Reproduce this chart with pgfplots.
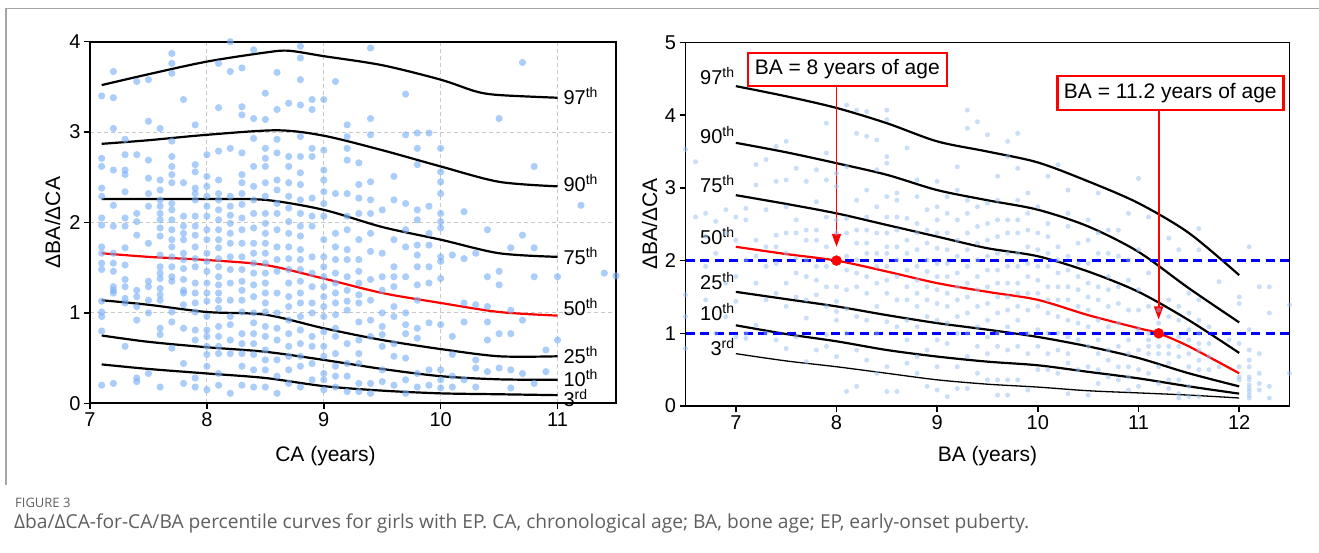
\documentclass[border=0pt]{standalone}
\usepackage{fontspec}
\setmainfont{Liberation Sans}
\newfontfamily\capfont{Open Sans}
\usepackage{pgfplots}
\pgfplotsset{compat=1.18}
\usetikzlibrary{arrows.meta}
\definecolor{ptL}{RGB}{120,175,245}
\definecolor{ptR}{RGB}{150,190,240}
\definecolor{gridc}{RGB}{200,200,200}
\definecolor{framec}{RGB}{165,165,165}
\definecolor{capc}{RGB}{95,95,95}
\newcommand{\pct}[2]{#1\raisebox{7pt}{\fontsize{14}{14}\selectfont #2}}
\pgfplotsset{mystyle/.style={scale only axis, clip=false, anchor=south west,
  axis line style={line width=1.8pt}, tick style={line width=1.5pt, black},
  major tick length=6pt, tick align=outside, xtick pos=bottom, ytick pos=left,
  tick label style={font=\fontsize{20}{24}\selectfont},
  /pgf/number format/assume math mode=true,
  label style={font=\fontsize{21}{25}\selectfont}},
  pl/.style={black, line width=2.2pt, smooth}}
\tikzset{lab/.style={font=\fontsize{20}{24}\selectfont, inner sep=0pt}}
\begin{document}
\begin{tikzpicture}[x=1pt,y=1pt]
\path[use as bounding box] (0,0) rectangle (1319,552);
\draw[framec, line width=1.2pt] (6,67) -- (6,543.5) -- (1319,543.5);
\node[anchor=west, font=\capfont\fontsize{13}{15}\selectfont, text=capc, inner sep=0pt] at (15,49) {FIGURE 3};
\node[anchor=west, font=\capfont\fontsize{19.2}{22}\selectfont, text=capc, inner sep=0pt] at (14,29) {Δba/ΔCA-for-CA/BA percentile curves for girls with EP. CA, chronological age; BA, bone age; EP, early-onset puberty.};

% ---------------- left panel ----------------
\begin{axis}[mystyle, at={(90pt,148.7pt)}, width=526pt, height=361.6pt,
  xmin=7, xmax=11.5, ymin=0, ymax=4, xtick={7,8,9,10,11}, ytick={0,1,2,3,4},
  grid=major, grid style={gridc, dash pattern=on 4pt off 3pt, line width=0.9pt},
  xlabel={CA (years)}, ylabel={ΔBA/ΔCA},
  xlabel style={at={(axis description cs:0.4477,-0.1457)}, anchor=center},
  ylabel style={at={(axis description cs:-0.0711,0.5)}, anchor=center}]
\addplot[only marks, mark=*, mark size=3.6pt, mark options={fill=ptL, fill opacity=0.62, draw opacity=0, line width=0pt}] coordinates {
(7.1,3.40)(7.1,2.71)(7.1,2.62)(7.1,2.38)(7.1,2.29)(7.1,2.05)(7.1,1.97)(7.1,1.73)(7.1,1.66)(7.1,1.55)(7.1,1.48)(7.1,1.13)(7.1,1.01)(7.1,0.96)(7.1,0.80)(7.1,0.20)
(7.2,3.67)(7.2,3.38)(7.2,3.04)(7.2,2.58)(7.2,2.19)(7.2,1.96)(7.2,1.66)(7.2,1.55)(7.2,1.46)(7.2,1.29)(7.2,1.25)(7.2,1.22)(7.2,0.22)
(7.3,2.92)(7.3,2.75)(7.3,2.58)(7.3,2.53)(7.3,2.34)(7.3,2.05)(7.3,1.96)(7.3,1.72)(7.3,1.53)(7.3,1.37)(7.3,1.29)(7.3,1.16)(7.3,1.11)(7.3,0.63)
(7.4,3.56)(7.4,2.75)(7.4,2.10)(7.4,2.01)(7.4,1.86)(7.4,1.25)(7.4,1.18)(7.4,1.07)(7.4,0.92)(7.4,0.28)(7.4,0.24)
(7.5,3.58)(7.5,3.12)(7.5,2.69)(7.5,2.49)(7.5,2.32)(7.5,2.18)(7.5,1.77)(7.5,1.35)(7.5,1.29)(7.5,1.14)(7.5,1.00)(7.5,0.33)
(7.6,3.04)(7.6,2.47)(7.6,2.36)(7.6,2.25)(7.6,2.18)(7.6,2.10)(7.6,2.03)(7.6,1.94)(7.6,1.85)(7.6,1.64)(7.6,1.51)(7.6,1.44)(7.6,1.38)(7.6,1.27)(7.6,1.20)(7.6,1.14)(7.6,0.83)(7.6,0.76)(7.6,0.18)
(7.7,3.87)(7.7,3.76)(7.7,3.65)(7.7,2.90)(7.7,2.73)(7.7,2.62)(7.7,2.53)(7.7,2.44)(7.7,2.21)(7.7,2.14)(7.7,2.03)(7.7,1.92)(7.7,1.81)(7.7,1.73)(7.7,1.62)(7.7,1.51)(7.7,1.40)(7.7,1.35)(7.7,1.01)(7.7,0.90)(7.7,0.61)
(7.8,3.36)(7.8,2.44)(7.8,2.07)(7.8,1.96)(7.8,1.88)(7.8,1.81)(7.8,1.66)(7.8,1.59)(7.8,1.49)(7.8,1.37)(7.8,1.25)(7.8,1.22)(7.8,1.09)(7.8,0.83)(7.8,0.44)(7.8,0.22)
(7.9,3.08)(7.9,2.64)(7.9,2.56)(7.9,2.38)(7.9,2.32)(7.9,2.25)(7.9,2.07)(7.9,1.96)(7.9,1.86)(7.9,1.73)(7.9,1.60)(7.9,1.51)(7.9,1.33)(7.9,1.22)(7.9,1.11)(7.9,1.01)(7.9,0.81)(7.9,0.70)(7.9,0.28)(7.9,0.18)
(8.0,2.75)(8.0,2.51)(8.0,2.40)(8.0,2.29)(8.0,2.18)(8.0,2.07)(8.0,1.92)(8.0,1.81)(8.0,1.66)(8.0,1.57)(8.0,1.46)(8.0,1.33)(8.0,1.22)(8.0,1.13)(8.0,0.96)(8.0,0.81)(8.0,0.74)(8.0,0.63)(8.0,0.54)(8.0,0.41)(8.0,0.15)
(8.1,3.76)(8.1,3.27)(8.1,2.79)(8.1,2.47)(8.1,2.32)(8.1,2.25)(8.1,2.14)(8.1,2.03)(8.1,1.92)(8.1,1.81)(8.1,1.72)(8.1,1.60)(8.1,1.51)(8.1,1.40)(8.1,1.31)(8.1,1.22)(8.1,1.14)(8.1,1.05)(8.1,0.85)(8.1,0.74)(8.1,0.63)(8.1,0.55)(8.1,0.33)(8.1,0.20)
(8.2,4.00)(8.2,3.67)(8.2,2.82)(8.2,2.29)(8.2,2.18)(8.2,2.08)(8.2,1.99)(8.2,1.88)(8.2,1.77)(8.2,1.62)(8.2,1.48)(8.2,1.33)(8.2,1.14)(8.2,0.96)(8.2,0.87)(8.2,0.70)(8.2,0.55)(8.2,0.11)
(8.3,3.71)(8.3,3.28)(8.3,3.19)(8.3,2.77)(8.3,2.53)(8.3,2.44)(8.3,2.32)(8.3,2.20)(8.3,2.05)(8.3,1.92)(8.3,1.77)(8.3,1.62)(8.3,1.48)(8.3,1.35)(8.3,1.25)(8.3,1.14)(8.3,1.01)(8.3,0.77)(8.3,0.66)(8.3,0.55)(8.3,0.41)(8.3,0.20)
(8.4,3.91)(8.4,3.15)(8.4,2.93)(8.4,2.62)(8.4,2.40)(8.4,2.25)(8.4,2.10)(8.4,1.94)(8.4,1.77)(8.4,1.66)(8.4,1.55)(8.4,1.44)(8.4,1.31)(8.4,1.18)(8.4,1.00)(8.4,0.89)(8.4,0.77)(8.4,0.66)(8.4,0.54)(8.4,0.37)(8.4,0.18)
(8.5,3.43)(8.5,3.14)(8.5,2.82)(8.5,2.71)(8.5,2.62)(8.5,2.44)(8.5,2.29)(8.5,2.10)(8.5,1.99)(8.5,1.88)(8.5,1.77)(8.5,1.66)(8.5,1.55)(8.5,1.44)(8.5,1.33)(8.5,1.22)(8.5,1.11)(8.5,1.01)(8.5,0.85)(8.5,0.74)(8.5,0.59)(8.5,0.48)(8.5,0.37)(8.5,0.18)
(8.6,3.66)(8.6,3.25)(8.6,2.92)(8.6,2.77)(8.6,2.47)(8.6,2.36)(8.6,2.21)(8.6,2.10)(8.6,1.92)(8.6,1.73)(8.6,1.59)(8.6,1.46)(8.6,1.22)(8.6,1.00)(8.6,0.83)(8.6,0.70)(8.6,0.48)(8.6,0.30)(8.6,0.11)
(8.7,3.32)(8.7,2.73)(8.7,2.62)(8.7,2.44)(8.7,2.29)(8.7,2.16)(8.7,2.01)(8.7,1.88)(8.7,1.73)(8.7,1.60)(8.7,1.48)(8.7,1.33)(8.7,1.18)(8.7,1.07)(8.7,0.92)(8.7,0.77)(8.7,0.63)(8.7,0.52)(8.7,0.37)(8.7,0.22)
(8.8,3.95)(8.8,3.82)(8.8,3.58)(8.8,3.30)(8.8,2.95)(8.8,2.73)(8.8,2.55)(8.8,2.42)(8.8,2.25)(8.8,2.10)(8.8,1.96)(8.8,1.85)(8.8,1.70)(8.8,1.59)(8.8,1.48)(8.8,1.35)(8.8,1.22)(8.8,1.11)(8.8,0.96)(8.8,0.81)(8.8,0.66)(8.8,0.52)(8.8,0.41)(8.8,0.18)
(8.9,3.36)(8.9,3.25)(8.9,2.82)(8.9,2.73)(8.9,2.27)(8.9,2.07)(8.9,1.96)(8.9,1.62)(8.9,1.44)(8.9,1.29)(8.9,1.11)(8.9,1.00)(8.9,0.74)(8.9,0.63)(8.9,0.44)(8.9,0.26)
(9.0,3.36)(9.0,2.80)(9.0,2.58)(9.0,2.47)(9.0,2.34)(9.0,2.21)(9.0,2.07)(9.0,1.81)(9.0,1.62)(9.0,1.51)(9.0,1.40)(9.0,1.29)(9.0,1.18)(9.0,1.07)(9.0,0.96)(9.0,0.79)(9.0,0.63)(9.0,0.52)(9.0,0.33)(9.0,0.26)(9.0,0.15)
(9.1,3.56)(9.1,2.32)(9.1,1.88)(9.1,1.73)(9.1,1.59)(9.1,1.44)(9.1,1.33)(9.1,1.22)(9.1,1.11)(9.1,0.98)(9.1,0.83)(9.1,0.74)(9.1,0.55)(9.1,0.41)(9.1,0.30)(9.1,0.18)
(9.2,3.08)(9.2,2.95)(9.2,2.82)(9.2,2.69)(9.2,2.32)(9.2,2.07)(9.2,1.92)(9.2,1.70)(9.2,1.59)(9.2,1.40)(9.2,1.25)(9.2,1.13)(9.2,1.03)(9.2,0.66)(9.2,0.44)(9.2,0.30)(9.2,0.13)
(9.3,2.66)(9.3,2.42)(9.3,2.27)(9.3,2.10)(9.3,1.81)(9.3,1.59)(9.3,1.46)(9.3,1.33)(9.3,1.20)(9.3,1.11)(9.3,0.90)(9.3,0.70)(9.3,0.55)(9.3,0.44)(9.3,0.22)(9.3,0.13)
(9.4,3.93)(9.4,3.15)(9.4,2.97)(9.4,2.45)(9.4,2.25)(9.4,2.10)(9.4,1.88)(9.4,1.68)(9.4,1.37)(9.4,1.14)(9.4,0.92)(9.4,0.74)(9.4,0.22)(9.4,0.11)
(9.5,2.14)(9.5,1.66)(9.5,1.40)(9.5,1.25)(9.5,1.00)(9.5,0.85)(9.5,0.76)(9.5,0.63)(9.5,0.37)(9.5,0.24)
(9.6,2.51)(9.6,2.25)(9.6,1.81)(9.6,1.51)(9.6,1.40)(9.6,1.29)(9.6,1.07)(9.6,0.96)(9.6,0.66)(9.6,0.52)(9.6,0.20)
(9.7,3.42)(9.7,2.97)(9.7,2.21)(9.7,1.92)(9.7,1.73)(9.7,1.40)(9.7,1.00)(9.7,0.87)(9.7,0.77)(9.7,0.50)(9.7,0.26)(9.7,0.11)
(9.8,2.99)(9.8,2.82)(9.8,2.64)(9.8,2.14)(9.8,2.03)(9.8,1.75)(9.8,1.64)(9.8,1.51)(9.8,1.31)(9.8,1.14)(9.8,0.83)(9.8,0.72)(9.8,0.33)(9.8,0.18)
(9.9,2.99)(9.9,2.18)(9.9,1.88)(9.9,1.75)(9.9,1.51)(9.9,1.33)(9.9,0.89)(9.9,0.37)(9.9,0.20)
(10.0,2.82)(10.0,2.56)(10.0,2.45)(10.0,2.32)(10.0,2.10)(10.0,2.01)(10.0,1.94)(10.0,1.62)(10.0,1.57)(10.0,1.38)(10.0,0.87)(10.0,0.37)(10.0,0.26)(10.0,0.17)
(10.1,1.64)(10.1,0.74)(10.1,0.54)(10.1,0.30)(10.1,0.18)
(10.2,2.12)(10.2,1.60)(10.2,1.11)(10.2,0.90)(10.2,0.26)
(10.3,1.66)(10.3,1.09)(10.3,0.48)(10.3,0.39)(10.3,0.18)
(10.4,1.92)(10.4,1.40)(10.4,1.07)(10.4,0.90)(10.4,0.70)(10.4,0.35)
(10.5,3.15)(10.5,1.46)(10.5,1.31)(10.5,0.77)(10.5,0.39)
(10.6,1.72)(10.6,1.03)(10.6,0.77)(10.6,0.37)(10.6,0.17)
(10.7,3.77)(10.7,1.86)(10.7,0.92)(10.7,0.33)
(10.8,2.62)(10.8,1.72)(10.8,1.40)(10.8,0.22)
(10.9,0.59)(10.9,0.35)
(11.0,1.40)(11.0,0.70)
(11.2,2.19)(11.4,1.44)(11.5,1.41)
};
\addplot[pl] coordinates {(7.1,3.52)(7.5,3.64)(8,3.78)(8.5,3.88)(8.7,3.90)(9,3.84)(9.5,3.74)(10,3.58)(10.3,3.45)(10.5,3.41)(11,3.38)};
\addplot[pl] coordinates {(7.1,2.87)(7.5,2.91)(8,2.97)(8.6,3.02)(9,2.96)(9.5,2.80)(10,2.62)(10.5,2.45)(11,2.40)};
\addplot[pl] coordinates {(7.1,2.26)(7.5,2.26)(8,2.26)(8.5,2.25)(9,2.14)(9.5,1.95)(10,1.81)(10.5,1.66)(11,1.62)};
\addplot[pl] coordinates {(7.1,1.14)(7.5,1.09)(8,1.01)(8.5,0.98)(9,0.83)(9.5,0.70)(10,0.60)(10.5,0.52)(11,0.52)};
\addplot[pl] coordinates {(7.1,0.75)(7.5,0.68)(8,0.62)(8.5,0.57)(9,0.48)(9.5,0.38)(10,0.30)(10.5,0.265)(11,0.26)};
\addplot[pl] coordinates {(7.1,0.43)(7.5,0.38)(8,0.33)(8.5,0.28)(9,0.19)(9.5,0.14)(10,0.11)(10.5,0.10)(11,0.09)};
\addplot[red, line width=2.2pt, smooth] coordinates {(7.1,1.66)(7.5,1.62)(8,1.585)(8.5,1.53)(9,1.38)(9.5,1.22)(10,1.11)(10.5,1.01)(11,0.97)};
\node[lab, anchor=base west] at (axis cs:11.05,3.31) {\pct{97}{th}};
\node[lab, anchor=base west] at (axis cs:11.05,2.34) {\pct{90}{th}};
\node[lab, anchor=base west] at (axis cs:11.05,1.54) {\pct{75}{th}};
\node[lab, anchor=base west] at (axis cs:11.05,0.97) {\pct{50}{th}};
\node[lab, anchor=base west] at (axis cs:11.05,0.44) {\pct{25}{th}};
\node[lab, anchor=base west] at (axis cs:11.05,0.19) {\pct{10}{th}};
\node[lab, anchor=base west] at (axis cs:11.05,-0.03) {\pct{3}{rd}};
\end{axis}

% ---------------- right panel ----------------
\begin{axis}[mystyle, at={(685.5pt,146pt)}, width=604pt, height=363.5pt,
  xmin=6.5, xmax=12.5, ymin=0, ymax=5, xtick={7,8,9,10,11,12}, ytick={0,1,2,3,4,5},
  xlabel={BA (years)}, ylabel={ΔBA/ΔCA},
  xlabel style={at={(axis description cs:0.5,-0.1376)}, anchor=center},
  ylabel style={at={(axis description cs:-0.0593,0.5)}, anchor=center}]
\addplot[only marks, mark=*, mark size=2.5pt, mark options={fill=ptR, fill opacity=0.5, draw opacity=0, line width=0pt}] coordinates {
(6.5,3.53)(6.5,1.53)(6.5,1.23)(6.5,0.79)(6.6,3.36)(6.6,2.60)
(6.7,2.65)(6.7,2.33)(6.7,1.92)(6.7,1.46)(6.8,2.54)(6.8,2.10)(6.8,1.00)
(6.9,2.70)(6.9,2.38)(6.9,1.69)(6.9,1.23)
(7.0,2.60)(7.0,2.28)(7.0,1.78)(7.0,1.44)(7.0,0.95)
(7.1,2.72)(7.1,2.56)(7.1,2.01)(7.1,1.00)(7.1,0.93)
(7.2,3.32)(7.2,3.04)(7.2,2.28)(7.2,2.06)(7.2,1.69)(7.2,1.11)
(7.3,3.39)(7.3,2.70)(7.3,2.19)(7.3,1.92)(7.3,1.46)(7.3,1.00)
(7.4,3.57)(7.4,3.09)(7.4,2.35)(7.4,2.19)(7.4,1.96)(7.4,1.55)(7.4,0.91)
(7.5,3.64)(7.5,3.11)(7.5,2.74)(7.5,2.38)(7.5,2.10)(7.5,1.69)(7.5,1.37)(7.5,0.79)
(7.6,3.27)(7.6,2.56)(7.6,2.38)(7.6,2.03)(7.6,1.83)(7.6,1.50)(7.6,0.95)
(7.7,3.09)(7.7,2.42)(7.7,2.28)(7.7,2.01)(7.7,1.78)(7.7,1.46)(7.7,1.21)(7.7,0.61)
(7.8,3.25)(7.8,2.81)(7.8,2.42)(7.8,2.28)(7.8,1.92)(7.8,1.73)(7.8,1.53)(7.8,0.77)
(7.9,3.89)(7.9,3.48)(7.9,3.11)(7.9,2.60)(7.9,2.19)(7.9,1.92)(7.9,1.64)(7.9,1.37)(7.9,0.98)(7.9,0.82)
(8.0,3.20)(8.0,3.02)(8.0,2.56)(8.0,2.38)(8.0,1.64)(8.0,1.44)(8.0,1.30)(8.0,1.18)(8.0,0.68)
(8.1,4.14)(8.1,3.29)(8.1,2.58)(8.1,2.38)(8.1,2.06)(8.1,1.87)(8.1,1.60)(8.1,1.34)(8.1,1.00)(8.1,0.20)
(8.2,4.07)(8.2,3.75)(8.2,2.83)(8.2,2.42)(8.2,2.24)(8.2,2.01)(8.2,1.83)(8.2,1.64)(8.2,1.23)(8.2,0.77)(8.2,0.27)
(8.3,4.05)(8.3,3.71)(8.3,2.97)(8.3,2.60)(8.3,2.42)(8.3,2.24)(8.3,2.10)(8.3,1.78)(8.3,1.55)(8.3,1.18)(8.3,0.63)
(8.4,3.66)(8.4,3.25)(8.4,2.74)(8.4,2.38)(8.4,2.10)(8.4,1.92)(8.4,1.69)(8.4,1.37)(8.4,1.00)(8.4,0.45)
(8.5,4.07)(8.5,3.94)(8.5,3.43)(8.5,3.34)(8.5,2.88)(8.5,2.60)(8.5,2.38)(8.5,2.19)(8.5,2.10)(8.5,1.92)(8.5,1.73)(8.5,1.55)(8.5,1.16)(8.5,0.54)(8.5,0.20)
(8.6,2.93)(8.6,2.83)(8.6,2.60)(8.6,2.42)(8.6,2.19)(8.6,2.01)(8.6,1.78)(8.6,1.46)(8.6,1.09)(8.6,0.20)
(8.7,3.55)(8.7,2.58)(8.7,2.28)(8.7,2.10)(8.7,1.87)(8.7,1.64)(8.7,1.46)(8.7,1.18)(8.7,0.91)(8.7,0.59)
(8.8,3.11)(8.8,2.88)(8.8,2.51)(8.8,2.38)(8.8,2.15)(8.8,1.92)(8.8,1.73)(8.8,1.55)(8.8,1.37)(8.8,1.09)(8.8,0.68)(8.8,0.45)
(8.9,2.70)(8.9,2.42)(8.9,2.24)(8.9,2.01)(8.9,1.85)(8.9,1.64)(8.9,1.46)(8.9,1.23)(8.9,0.77)(8.9,0.27)
(9.0,3.09)(9.0,2.74)(9.0,2.56)(9.0,2.38)(9.0,2.17)(9.0,1.96)(9.0,1.78)(9.0,1.60)(9.0,1.41)(9.0,1.18)(9.0,0.91)(9.0,0.54)(9.0,0.22)
(9.1,2.88)(9.1,2.65)(9.1,2.38)(9.1,2.15)(9.1,1.96)(9.1,1.78)(9.1,1.55)(9.1,1.37)(9.1,1.14)(9.1,0.86)(9.1,0.13)
(9.2,3.29)(9.2,2.97)(9.2,2.56)(9.2,2.28)(9.2,2.06)(9.2,1.83)(9.2,1.64)(9.2,1.46)(9.2,1.23)(9.2,1.00)(9.2,0.54)(9.2,0.24)
(9.3,4.07)(9.3,3.82)(9.3,2.83)(9.3,2.65)(9.3,2.38)(9.3,2.15)(9.3,1.92)(9.3,1.69)(9.3,1.50)(9.3,1.28)(9.3,1.00)(9.3,0.68)(9.3,0.24)
(9.4,3.91)(9.4,2.74)(9.4,2.47)(9.4,2.24)(9.4,2.01)(9.4,1.78)(9.4,1.60)(9.4,1.37)(9.4,1.09)(9.4,0.82)(9.4,0.45)
(9.5,3.73)(9.5,2.79)(9.5,2.51)(9.5,2.28)(9.5,2.06)(9.5,1.87)(9.5,1.64)(9.5,1.41)(9.5,1.18)(9.5,0.95)(9.5,0.72)(9.5,0.36)
(9.6,3.16)(9.6,2.83)(9.6,2.56)(9.6,2.33)(9.6,2.10)(9.6,1.87)(9.6,1.69)(9.6,1.50)(9.6,1.28)(9.6,1.00)(9.6,0.82)(9.6,0.36)(9.6,0.15)
(9.7,3.64)(9.7,3.43)(9.7,2.56)(9.7,2.38)(9.7,2.10)(9.7,1.92)(9.7,1.69)(9.7,1.50)(9.7,1.32)(9.7,1.09)(9.7,0.77)(9.7,0.36)(9.7,0.15)
(9.8,3.75)(9.8,3.27)(9.8,2.83)(9.8,2.56)(9.8,2.38)(9.8,2.10)(9.8,1.92)(9.8,1.69)(9.8,1.55)(9.8,1.37)(9.8,1.18)(9.8,0.82)(9.8,0.36)
(9.9,2.93)(9.9,2.65)(9.9,2.42)(9.9,2.19)(9.9,1.96)(9.9,1.78)(9.9,1.55)(9.9,1.32)(9.9,1.00)(9.9,0.72)(9.9,0.22)
(10.0,2.74)(10.0,2.38)(10.0,2.15)(10.0,1.92)(10.0,1.73)(10.0,1.55)(10.0,1.37)(10.0,1.05)(10.0,0.82)(10.0,0.50)
(10.1,3.16)(10.1,2.51)(10.1,2.33)(10.1,2.10)(10.1,1.92)(10.1,1.64)(10.1,1.46)(10.1,1.28)(10.1,1.00)(10.1,0.72)(10.1,0.50)
(10.2,3.32)(10.2,2.19)(10.2,2.01)(10.2,1.83)(10.2,1.64)(10.2,1.46)(10.2,1.23)(10.2,1.00)(10.2,0.77)(10.2,0.45)
(10.3,2.97)(10.3,2.65)(10.3,2.47)(10.3,2.06)(10.3,1.87)(10.3,1.64)(10.3,1.46)(10.3,1.18)(10.3,0.95)(10.3,0.72)(10.3,0.59)(10.3,0.17)
(10.4,2.24)(10.4,1.96)(10.4,1.78)(10.4,1.60)(10.4,1.37)(10.4,1.14)(10.4,0.91)(10.4,0.50)
(10.5,2.56)(10.5,2.28)(10.5,1.96)(10.5,1.69)(10.5,1.50)(10.5,1.32)(10.5,1.09)(10.5,0.82)(10.5,0.54)(10.5,0.15)
(10.6,2.93)(10.6,2.38)(10.6,2.10)(10.6,1.64)(10.6,1.46)(10.6,1.18)(10.6,0.91)(10.6,0.72)(10.6,0.50)(10.6,0.31)
(10.7,2.42)(10.7,2.10)(10.7,1.78)(10.7,1.60)(10.7,1.37)(10.7,1.09)(10.7,0.77)(10.7,0.63)(10.7,0.40)
(10.8,2.42)(10.8,2.06)(10.8,1.64)(10.8,1.41)(10.8,1.14)(10.8,0.82)(10.8,0.54)(10.8,0.36)
(10.9,2.65)(10.9,2.01)(10.9,1.73)(10.9,1.32)(10.9,0.91)(10.9,0.72)(10.9,0.54)(10.9,0.40)(10.9,0.22)
(11.0,3.13)(11.0,2.15)(11.0,1.60)(11.0,1.32)(11.0,1.05)(11.0,0.77)(11.0,0.50)(11.0,0.27)
(11.1,2.60)(11.1,1.83)(11.1,1.37)(11.1,1.00)(11.1,0.91)(11.1,0.82)(11.1,0.72)(11.1,0.45)
(11.2,1.32)(11.2,1.14)(11.2,0.95)(11.2,0.82)(11.2,0.72)(11.2,0.54)(11.2,0.31)
(11.3,2.31)(11.3,1.46)(11.3,1.23)(11.3,0.82)(11.3,0.72)(11.3,0.59)(11.3,0.36)(11.3,0.24)
(11.4,2.15)(11.4,1.37)(11.4,1.18)(11.4,0.95)(11.4,0.82)(11.4,0.68)(11.4,0.36)(11.4,0.17)(11.4,0.11)
(11.5,1.55)(11.5,1.28)(11.5,1.05)(11.5,0.91)(11.5,0.72)(11.5,0.54)(11.5,0.27)(11.5,0.13)
(11.6,2.44)(11.6,2.15)(11.6,1.46)(11.6,1.18)(11.6,1.00)(11.6,0.86)(11.6,0.77)(11.6,0.63)(11.6,0.50)(11.6,0.13)
(11.7,1.09)(11.7,0.86)(11.7,0.68)(11.7,0.50)(11.8,1.71)(11.8,0.54)(11.9,0.91)
(12.0,1.50)(12.0,1.41)(12.0,0.86)(12.0,0.54)(12.0,0.40)(12.0,0.36)
(12.1,2.19)(12.1,1.05)(12.1,0.77)(12.1,0.63)(12.1,0.54)(12.1,0.40)(12.1,0.36)(12.1,0.29)(12.1,0.24)(12.1,0.20)(12.1,0.15)(12.1,0.11)
(12.2,1.64)(12.2,0.72)(12.2,0.45)(12.2,0.31)(12.2,0.22)
(12.3,1.64)(12.3,1.28)(12.3,0.27)(12.3,0.11)(12.5,1.39)(12.5,0.45)
};
\addplot[pl] coordinates {(7,4.40)(7.5,4.26)(8,4.10)(8.5,3.89)(9,3.64)(9.5,3.50)(10,3.35)(10.5,3.09)(11,2.79)(11.5,2.38)(12,1.80)};
\addplot[pl] coordinates {(7,3.62)(7.5,3.49)(8,3.34)(8.5,3.18)(9,2.97)(9.5,2.83)(10,2.70)(10.5,2.47)(11,2.12)(11.5,1.62)(12,1.15)};
\addplot[pl] coordinates {(7,2.90)(7.5,2.78)(8,2.65)(8.5,2.49)(9,2.33)(9.5,2.17)(10,2.06)(10.5,1.85)(11,1.57)(11.5,1.18)(12,0.73)};
\addplot[pl] coordinates {(7,1.57)(7.5,1.47)(8,1.37)(8.5,1.25)(9,1.14)(9.5,1.05)(10,0.95)(10.5,0.82)(11,0.66)(11.5,0.45)(12,0.27)};
\addplot[pl] coordinates {(7,1.11)(7.5,0.99)(8,0.89)(8.5,0.77)(9,0.68)(9.5,0.61)(10,0.56)(10.5,0.47)(11,0.38)(11.5,0.27)(12,0.17)};
\addplot[black, line width=1.3pt, smooth] coordinates {(7,0.72)(7.5,0.62)(8,0.54)(8.5,0.45)(9,0.36)(9.5,0.30)(10,0.26)(10.5,0.21)(11,0.18)(11.5,0.15)(12,0.11)};
\addplot[red, line width=2.2pt, smooth] coordinates {(7,2.19)(7.5,2.09)(8,2.00)(8.5,1.85)(9,1.69)(9.5,1.57)(10,1.46)(10.5,1.25)(11,1.07)(11.2,1.00)(11.5,0.82)(12,0.45)};
\addplot[blue, line width=2.6pt, dash pattern=on 9pt off 5.5pt] coordinates {(6.5,2) (12.5,2)};
\addplot[blue, line width=2.6pt, dash pattern=on 9pt off 5.5pt] coordinates {(6.5,1) (12.5,1)};
\draw[red, line width=1.8pt, -{Triangle[length=13pt,width=9pt]}] (axis cs:8,4.40) -- (axis cs:8,2.19);
\draw[red, line width=1.8pt, -{Triangle[length=13pt,width=9pt]}] (axis cs:11.2,4.07) -- (axis cs:11.2,1.19);
\addplot[only marks, mark=*, mark size=5pt, red] coordinates {(8,2) (11.2,1)};
\node[draw=red, line width=2.5pt, fill=white, minimum width=199pt, minimum height=33pt, inner sep=0pt, font=\fontsize{21}{25}\selectfont] at (axis cs:8.107,4.631) {BA = 8 years of age};
\node[draw=red, line width=2.5pt, fill=white, minimum width=226pt, minimum height=34pt, inner sep=0pt, font=\fontsize{21}{25}\selectfont] at (axis cs:11.316,4.308) {BA = 11.2 years of age};
\node[lab, anchor=base east] at (axis cs:6.985,4.42) {\pct{97}{th}};
\node[lab, anchor=base east] at (axis cs:6.985,3.61) {\pct{90}{th}};
\node[lab, anchor=base east] at (axis cs:6.985,2.93) {\pct{75}{th}};
\node[lab, anchor=base east] at (axis cs:6.985,2.22) {\pct{50}{th}};
\node[lab, anchor=base east] at (axis cs:6.985,1.60) {\pct{25}{th}};
\node[lab, anchor=base east] at (axis cs:6.985,1.18) {\pct{10}{th}};
\node[lab, anchor=base east] at (axis cs:6.985,0.70) {\pct{3}{rd}};
\end{axis}
\end{tikzpicture}
\end{document}
